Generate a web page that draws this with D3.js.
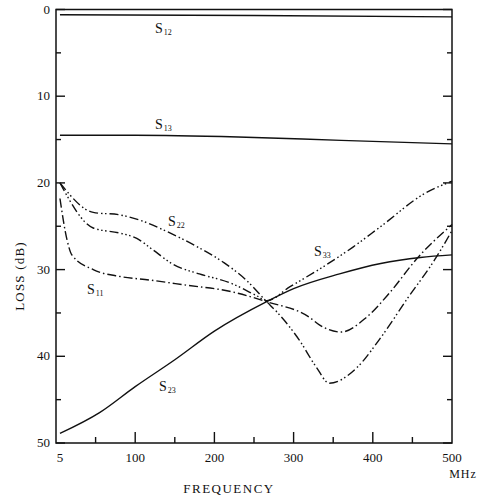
<!DOCTYPE html>
<html>
<head>
    <title>Loss vs Frequency</title>
    <style>
        body { margin: 0; background: #fff; }
        text { font-family: "Liberation Serif", "DejaVu Serif", serif; fill: #111; }
    </style>
</head>
<body>
    <script src="https://d3js.org/d3.v7.min.js"></script>
    <script>
        // Readings: [frequency MHz, loss dB]
        const s12 = [[5, 0.6], [250, 0.7], [500, 0.85]];
        const s13 = [[5, 14.5], [100, 14.5], [230, 14.7], [360, 15.1], [500, 15.5]];
        const s23 = [[5, 48.9], [55, 46.5], [100, 43.5], [150, 40.4], [200, 37.1], [266, 33.7],
                     [300, 32.2], [358, 30.5], [410, 29.3], [460, 28.6], [500, 28.3]];
        const s11 = [[5, 21.8], [14, 26.6], [20, 28.3], [47, 30.0], [81, 30.8], [118, 31.2],
                     [165, 31.8], [219, 32.5], [266, 33.7], [320, 35.5], [333, 36.4], [360, 37.2],
                     [392, 35.5], [421, 32.7], [456, 28.7], [500, 24.8]];
        const s22 = [[5, 20], [47, 23.4], [81, 23.7], [106, 24.3], [135, 25.4], [181, 27.5],
                     [212, 29.2], [240, 31.2], [266, 33.7], [279, 34.9], [307, 38.1], [329, 41.3],
                     [345, 43.1], [380, 41.3], [408, 38.1], [444, 33.3], [480, 28.6], [500, 25.5]];
        const s33 = [[5, 20], [47, 25.2], [81, 25.8], [102, 26.4], [122, 27.7], [148, 29.4],
                     [181, 30.5], [219, 31.5], [253, 33.0], [266, 33.6], [295, 32.0], [337, 29.7],
                     [375, 27.4], [409, 25.1], [466, 21.2], [500, 19.8]];

        const xTicks = [5, 100, 200, 300, 400, 500];
        const xMinor = [50, 150, 250, 350, 450];
        const yTicks = [0, 10, 20, 30, 40, 50];
        const yMinor = [5, 15, 25, 35, 45];

        const curves = [
            { name: '12', data: s12, dash: null, label: [155, 28] },
            { name: '13', data: s13, dash: null, label: [155, 124] },
            { name: '23', data: s23, dash: null, label: [159, 386] },
            { name: '11', data: s11, dash: '9,3,1.5,3', label: [87, 289] },
            { name: '22', data: s22, dash: '9,3,1.5,2.5,1.5,3', label: [168, 221] },
            { name: '33', data: s33, dash: '9,3,1.5,2.5,1.5,2.5,1.5,3', label: [314, 251] }
        ];

        const width = 488, height = 497;
        const x = d3.scaleLinear().domain([0, 500]).range([56, 452]);
        const y = d3.scaleLinear().domain([0, 50]).range([9.5, 443]);

        const svg = d3.select('body').append('svg')
            .attr('width', width)
            .attr('height', height);

        // frame
        svg.append('rect')
            .attr('x', x(0)).attr('y', y(0))
            .attr('width', x(500) - x(0)).attr('height', y(50) - y(0))
            .attr('fill', 'none').attr('stroke', '#111').attr('stroke-width', 1.5);

        // inward ticks
        const tk = svg.append('g').attr('stroke', '#111').attr('stroke-width', 1.4);
        yTicks.concat(yMinor).forEach(v => {
            const len = yTicks.includes(v) ? 9 : 5;
            tk.append('line').attr('x1', x(0)).attr('x2', x(0) + len).attr('y1', y(v)).attr('y2', y(v));
            tk.append('line').attr('x1', x(500)).attr('x2', x(500) - len).attr('y1', y(v)).attr('y2', y(v));
        });
        xTicks.slice(1, -1).concat(xMinor).forEach(v => {
            const len = xTicks.includes(v) ? 11 : 6;
            tk.append('line').attr('x1', x(v)).attr('x2', x(v)).attr('y1', y(50)).attr('y2', y(50) - len);
        });

        // tick labels
        svg.selectAll('.ylab').data(yTicks).enter().append('text')
            .attr('x', x(0) - 6).attr('y', d => y(d) + 4)
            .attr('text-anchor', 'end').attr('font-size', 13)
            .text(d => d);
        svg.selectAll('.xlab').data(xTicks).enter().append('text')
            .attr('x', d => x(d)).attr('y', y(50) + 19)
            .attr('text-anchor', 'middle').attr('font-size', 13)
            .text(d => d);

        svg.append('text').attr('x', 463).attr('y', 478)
            .attr('text-anchor', 'middle').attr('font-size', 12).attr('letter-spacing', 1)
            .text('MHz');
        svg.append('text').attr('x', 229).attr('y', 493)
            .attr('text-anchor', 'middle').attr('font-size', 13).attr('letter-spacing', 1.5)
            .text('FREQUENCY');
        svg.append('text')
            .attr('transform', 'translate(24,276) rotate(-90)')
            .attr('text-anchor', 'middle').attr('font-size', 13).attr('letter-spacing', 1.2)
            .text('LOSS (dB)');

        // curves
        const line = d3.line()
            .x(d => x(d[0]))
            .y(d => y(d[1]))
            .curve(d3.curveMonotoneX);

        svg.selectAll('.curve').data(curves).enter().append('path')
            .attr('d', d => line(d.data))
            .attr('fill', 'none')
            .attr('stroke', '#111')
            .attr('stroke-width', 1.4)
            .attr('stroke-dasharray', d => d.dash);

        // curve labels
        curves.forEach(c => {
            const t = svg.append('text')
                .attr('x', c.label[0]).attr('y', c.label[1] + 5)
                .attr('font-size', 14);
            t.append('tspan').text('S');
            t.append('tspan').attr('font-size', 8).attr('dy', 2).attr('dx', 1).text(c.name);
        });
    </script>
</body>
</html>
